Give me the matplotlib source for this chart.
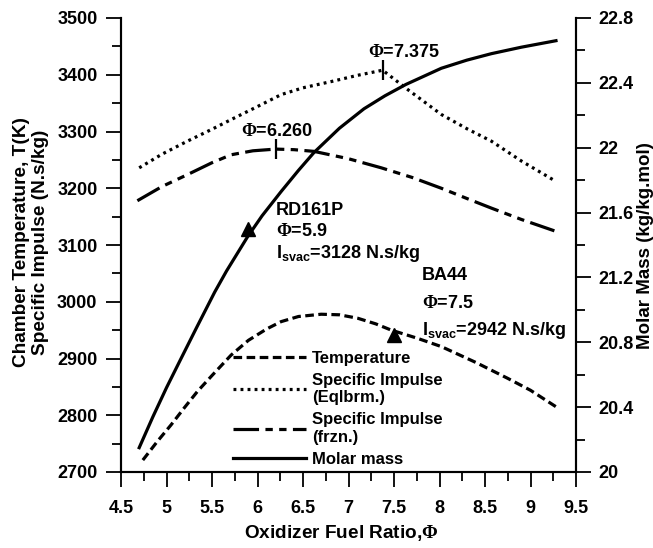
import matplotlib
matplotlib.use('Agg')
import matplotlib.pyplot as plt
from matplotlib.ticker import MultipleLocator, FormatStrFormatter

plt.rcParams['font.family'] = ['Liberation Sans', 'DejaVu Sans']
plt.rcParams['font.weight'] = 'bold'
plt.rcParams['mathtext.fontset'] = 'custom'
plt.rcParams['mathtext.rm'] = 'Liberation Serif'
plt.rcParams['mathtext.sf'] = 'Liberation Sans:bold'
plt.rcParams['mathtext.bf'] = 'Liberation Sans:bold'

# values
phi_temp = [4.74, 4.9, 5.05, 5.2, 5.34, 5.5, 5.71, 5.9, 6.1, 6.26, 6.45, 6.7, 6.9,
            7.1, 7.3, 7.47, 7.75, 8.02, 8.4, 8.75, 9.0, 9.28]
temp = [2721, 2754, 2783, 2814, 2842, 2870, 2906, 2932, 2952, 2965, 2974, 2978, 2977,
        2971, 2961, 2950, 2936, 2921, 2893, 2865, 2844, 2815]

phi_eq = [4.70, 4.95, 5.23, 5.5, 5.71, 6.0, 6.26, 6.5, 6.81, 7.1, 7.375,
          7.65, 8.02, 8.3, 8.57, 8.9, 9.28]
isp_eq = [3236, 3260, 3283, 3304, 3321, 3344, 3365, 3377, 3388, 3399, 3408,
          3374, 3330, 3305, 3283, 3248, 3212]

phi_fr = [4.68, 4.95, 5.23, 5.5, 5.71, 5.95, 6.2, 6.4, 6.62, 7.0, 7.36, 7.7,
          8.02, 8.3, 8.57, 8.9, 9.28]
isp_fr = [3178, 3203, 3224, 3245, 3259, 3266, 3269, 3268, 3265, 3252, 3236, 3219,
          3200, 3182, 3165, 3145, 3124]

phi_mm = [4.70, 4.85, 5.0, 5.16, 5.33, 5.53, 5.66, 5.89, 6.05, 6.26, 6.45, 6.62,
          6.9, 7.17, 7.4, 7.63, 8.02, 8.3, 8.57, 8.9, 9.28]
molar = [20.15, 20.34, 20.52, 20.70, 20.89, 21.11, 21.24, 21.45, 21.58, 21.73, 21.86,
         21.97, 22.12, 22.24, 22.32, 22.39, 22.49, 22.54, 22.58, 22.62, 22.66]

# propellant points (triangles) and peak markers
prop_phi = [5.9, 7.5]
prop_isp = [3128, 2942]
peak_phi = [6.2, 7.375]
peak_isp = [3269, 3408]

fig = plt.figure(figsize=(6.53, 5.48), dpi=100)
ax = fig.add_axes([121/653, 1-472/548, 455/653, 454/548])
ax2 = ax.twinx()

lw = 2.3
l1, = ax.plot(phi_temp, temp, color='black', lw=lw, dashes=(2.7, 1.4), label='Temperature')
l2, = ax.plot(phi_eq, isp_eq, color='black', lw=lw, dashes=(0.9, 1.3),
              label='Specific Impulse\n(Eqlbrm.)')
l3, = ax.plot(phi_fr, isp_fr, color='black', lw=lw, dashes=(8, 2, 2.3, 2, 2.3, 2),
              label='Specific Impulse\n(frzn.)')
l4, = ax2.plot(phi_mm, molar, color='black', lw=lw, label='Molar mass')

ax.plot(prop_phi, prop_isp, linestyle='none', marker='^', color='black', markersize=10)
ax.plot(peak_phi, peak_isp, linestyle='none', marker='|', color='black',
        markersize=14, markeredgewidth=1.6)

ax.set_xlim(4.5, 9.5)
ax.set_ylim(2700, 3500)
ax2.set_ylim(20, 22.8)

ax.xaxis.set_major_locator(MultipleLocator(0.5))
ax.xaxis.set_minor_locator(MultipleLocator(0.25))
ax.xaxis.set_major_formatter(FormatStrFormatter('%g'))
ax.yaxis.set_major_locator(MultipleLocator(100))
ax.yaxis.set_minor_locator(MultipleLocator(50))
ax2.yaxis.set_major_locator(MultipleLocator(0.4))
ax2.yaxis.set_minor_locator(MultipleLocator(0.2))
ax2.yaxis.set_major_formatter(FormatStrFormatter('%g'))

for a in (ax, ax2):
    a.spines['top'].set_visible(False)
    for s in a.spines.values():
        s.set_linewidth(1.5)
    a.tick_params(which='major', length=11, width=1.3, labelsize=13)
    a.tick_params(which='minor', length=6.5, width=1.3)
ax.tick_params(axis='x', pad=9)
ax.tick_params(axis='y', pad=6)
ax2.tick_params(axis='y', pad=5)

fs = 13
ax.text(5.82, 3292, r'$\Phi$=6.260', fontsize=fs)
ax.text(7.21, 3431, r'$\Phi$=7.375', fontsize=fs)
ax.text(6.203, 3153, 'RD161P', fontsize=fs)
ax.text(6.203, 3116, r'$\Phi$=5.9', fontsize=fs)
ax.text(6.203, 3077, r'I$_\mathsf{svac}$=3128 N.s/kg', fontsize=fs)
ax.text(7.81, 3038, 'BA44', fontsize=fs)
ax.text(7.81, 2989, r'$\Phi$=7.5', fontsize=fs)
ax.text(7.81, 2941, r'I$_\mathsf{svac}$=2942 N.s/kg', fontsize=fs)

leg = ax2.legend(handles=[l1, l2, l3, l4], loc='lower left', bbox_to_anchor=(0.246, 0.012),
                 frameon=False, fontsize=12, handlelength=4.4, handletextpad=0.35,
                 labelspacing=0.42, borderpad=0, borderaxespad=0)

fig.text(341/653, 1-533/548, r'Oxidizer Fuel Ratio,$\Phi$', fontsize=13.7,
         ha='center', va='center')
fig.text(31/653, 1-242/548, 'Chamber Temperature, T(K)\nSpecific Impulse (N.s/kg)',
         fontsize=13.7, rotation=90, ha='center', va='center', linespacing=1.1)
fig.text(646/653, 1-246/548, 'Molar Mass (kg/kg.mol)', fontsize=13.5,
         rotation=90, ha='center', va='center')

fig.savefig('out.png', dpi=100)
